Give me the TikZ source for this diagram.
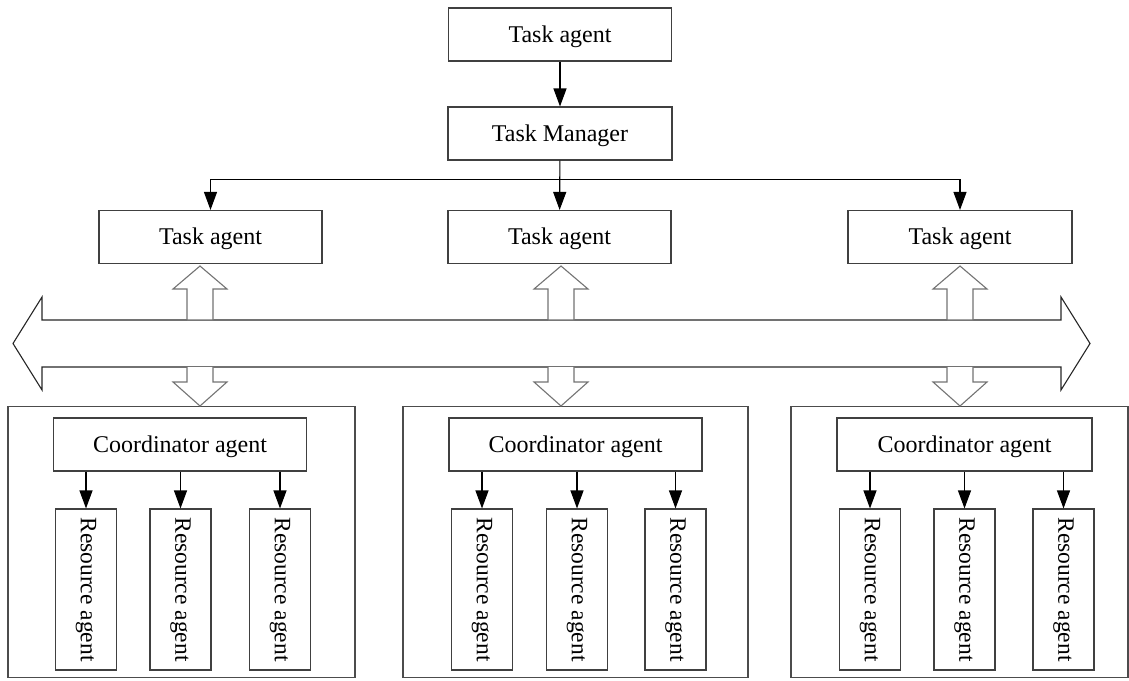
\documentclass[tikz,border=0pt]{standalone}
\usepackage{fontspec}
\setmainfont{Liberation Serif}
\usetikzlibrary{arrows.meta}
\begin{document}
\begin{tikzpicture}[x=1pt,y=-1pt,
  box/.style={draw=black!75,line width=1.1pt,inner sep=0pt,fill=white,
    font=\fontsize{24}{27}\selectfont,text height=15.5pt,text depth=0pt},
  wide/.style={box,minimum width=223pt,minimum height=53pt},
  coord/.style={box,minimum width=253pt,minimum height=53pt},
  res/.style={draw=black!75,line width=1.1pt,inner sep=0pt,fill=white,
    font=\fontsize{23.5}{27}\selectfont,minimum width=61pt,minimum height=161pt},
  frame/.style={draw=black!70,line width=1.1pt},
  link/.style={draw=black,line width=1.1pt,-{Triangle[length=18pt,width=13pt]}},
  block/.style={draw=black!55,line width=1.1pt,fill=white,line join=miter},
  bus/.style={draw=black!85,line width=1.1pt,line join=miter},
]
\useasboundingbox (0,0) rectangle (1129,680);

% upper hierarchy
\node[wide] (top) at (560,34.5) {Task agent};
\node[wide,minimum width=224pt] (mgr) at (560,133.5) {Task Manager};
\node[wide] (ta1) at (210.5,237) {Task agent};
\node[wide] (ta2) at (559.5,237) {Task agent};
\node[wide,minimum width=224pt] (ta3) at (960,237) {Task agent};

\draw[link] (top) -- (mgr);
\draw[link] (mgr) -- (ta2);
\coordinate (split) at (560,179.5);
\draw[link] (split) -| (ta1.north);
\draw[link] (split) -| (ta3.north);

% group frames
\draw[frame] (8,406.5) rectangle (355,677.5);
\draw[frame] (403,406.5) rectangle (748,677.5);
\draw[frame] (791,406.5) rectangle (1128,677.5);

% shared communication channel
\draw[bus] (13,343.5) -- (42,297) -- (42,320) -- (1061,320) -- (1061,297)
  -- (1090,343.5) -- (1061,390) -- (1061,367) -- (42,367) -- (42,390) -- cycle;

% block arrows to and from the channel
\foreach \cx in {200,561,960}{
  \draw[block] (\cx-13,320) -- (\cx-13,289) -- (\cx-27,289) -- (\cx,266)
    -- (\cx+27,289) -- (\cx+13,289) -- (\cx+13,320) -- cycle;
  \draw[block] (\cx-13,367) -- (\cx-13,382) -- (\cx-27,382) -- (\cx,406)
    -- (\cx+27,382) -- (\cx+13,382) -- (\cx+13,367);
}

% coordinator groups
\node[coord] (co1) at (180,444.5) {Coordinator agent};
\node[coord] (co2) at (575.5,444.5) {Coordinator agent};
\node[coord,minimum width=255pt] (co3) at (964.5,444.5) {Coordinator agent};

\node[res] (r11) at (86,589.5) {\rotatebox{-90}{Resource agent}};
\node[res] (r12) at (180.5,589.5) {\rotatebox{-90}{Resource agent}};
\node[res] (r13) at (280,589.5) {\rotatebox{-90}{Resource agent}};

\node[res] (r21) at (482,589.5) {\rotatebox{-90}{Resource agent}};
\node[res] (r22) at (577,589.5) {\rotatebox{-90}{Resource agent}};
\node[res] (r23) at (675.5,589.5) {\rotatebox{-90}{Resource agent}};

\node[res] (r31) at (870,589.5) {\rotatebox{-90}{Resource agent}};
\node[res] (r32) at (964.5,589.5) {\rotatebox{-90}{Resource agent}};
\node[res] (r33) at (1063.5,589.5) {\rotatebox{-90}{Resource agent}};

\foreach \g in {1,2,3}{
  \foreach \r in {1,2,3}{
    \draw[link] (co\g.south -| r\g\r.north) -- (r\g\r.north);
  }
}
\end{tikzpicture}
\end{document}
